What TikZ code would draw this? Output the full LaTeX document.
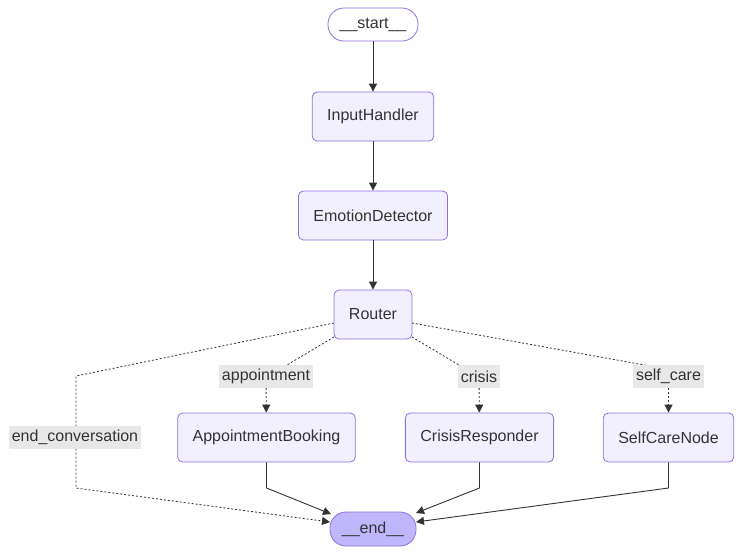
\documentclass[tikz,border=0pt]{standalone}
\usepackage{fontspec}
\setmainfont{Liberation Sans}
\usetikzlibrary{arrows.meta,backgrounds}

\definecolor{nodefill}{HTML}{F2F0FF}
\definecolor{nodeline}{HTML}{9370DB}
\definecolor{endfill}{HTML}{BFB6FC}
\definecolor{lblfill}{HTML}{E8E8E8}
\definecolor{ink}{HTML}{333333}

\tikzset{
	stepnode/.style={draw=nodeline, fill=nodefill, rounded corners=5pt, line width=0.8pt,
		minimum height=49pt, inner xsep=15pt, text=ink, font=\fontsize{16pt}{19pt}\selectfont},
	termnode/.style={stepnode, minimum height=33pt, inner xsep=4pt, rounded corners=16pt},
	edgelbl/.style={fill=lblfill, inner xsep=3pt, minimum height=23pt, text=ink,
		font=\fontsize{16pt}{19pt}\selectfont},
	flow/.style={draw=ink, line width=0.9pt, -{Triangle[length=8pt,width=8pt]}},
	cond/.style={draw=ink, line width=0.8pt, dash pattern=on 2pt off 2pt, -{Triangle[length=8pt,width=8pt]}}
}

\begin{document}
\begin{tikzpicture}[x=1pt,y=-1pt]
		\useasboundingbox (0,0) rectangle (743,555);

		\node [termnode, fill=white, minimum width=90pt] (start) at (373,24.5) {\_\_start\_\_};
		\node [stepnode] (input) at (373,116.5) {InputHandler};
		\node [stepnode] (emotion) at (373,215.5) {EmotionDetector};
		\node [stepnode] (router) at (373,314.5) {Router};
		\node [stepnode] (booking) at (266.5,437.5) {AppointmentBooking};
		\node [stepnode] (crisis) at (479.5,437.5) {CrisisResponder};
		\node [stepnode] (selfcare) at (668.5,437.5) {SelfCareNode};
		\node [termnode, fill=endfill, minimum width=86pt, minimum height=34pt] (end) at (373,529) {\_\_end\_\_};

		\node [edgelbl] (l_appt) at (266,376.5) {appointment};
		\node [edgelbl] (l_crisis) at (479,376.5) {crisis};
		\node [edgelbl] (l_self) at (668.5,376.5) {self\_care};
		\node [edgelbl] (l_endconv) at (75,437.5) {end\_conversation};

		\coordinate (r_w) at (334,323);
		\coordinate (r_sw) at (334,337);
		\coordinate (r_se) at (412,337);
		\coordinate (r_e) at (412,323);
		\coordinate (ec_top) at (76,376);
		\coordinate (ec_bot) at (76,488);
		\coordinate (ab_bot) at (266.5,488);
		\coordinate (cr_bot) at (479.5,488);
		\coordinate (sc_bot) at (668.5,488);
		\coordinate (end_nw) at (331,514);
		\coordinate (end_w) at (330,522);
		\coordinate (end_ne) at (416,513);
		\coordinate (end_e) at (416,522);

		\draw [flow] (start) -- (input);
		\draw [flow] (input) -- (emotion);
		\draw [flow] (emotion) -- (router);

		\begin{scope}[on background layer]
			\fill [white] (0,0) rectangle (743,555);
			\draw [cond, -] (r_sw) -- (287,365) -- (l_appt.center);
			\draw [cond, -] (r_se) -- (459,365) -- (l_crisis.center);
			\draw [cond, -] (r_e) -- (650,366) -- (l_self.center);
			\draw [cond] (r_w) -- (ec_top) -- (ec_bot) -- (end_w);
		\end{scope}
		\draw [cond] (l_appt) -- (booking);
		\draw [cond] (l_crisis) -- (crisis);
		\draw [cond] (l_self) -- (selfcare);

		\draw [flow] (booking) -- (ab_bot) -- (end_nw);
		\draw [flow] (crisis) -- (cr_bot) -- (end_ne);
		\draw [flow] (selfcare) -- (sc_bot) -- (end_e);

	\end{tikzpicture}
\end{document}
